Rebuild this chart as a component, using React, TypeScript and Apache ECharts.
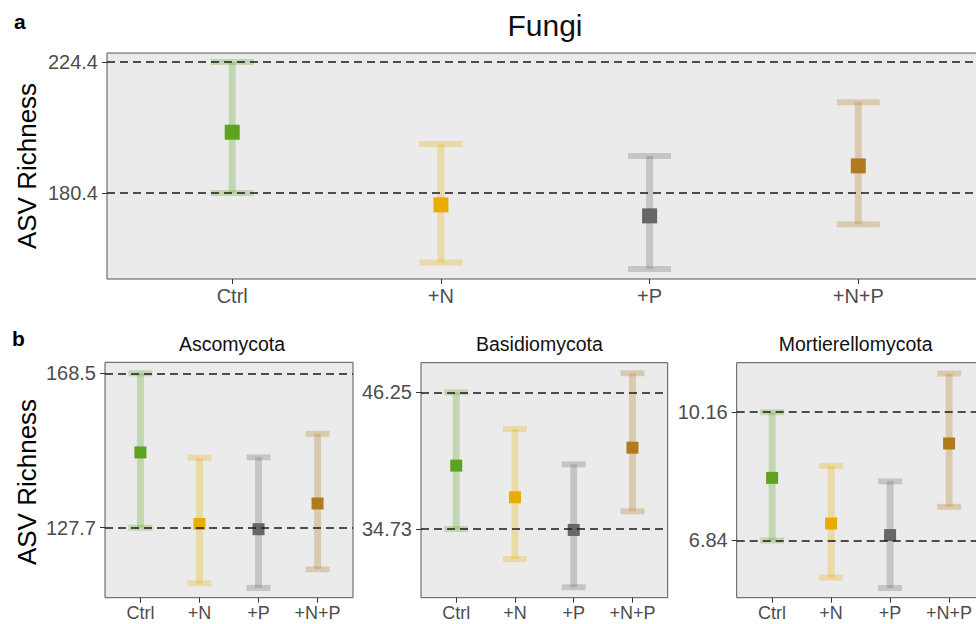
import React, { useEffect, useRef } from 'react';
import * as echarts from 'echarts';

const categories = ['Ctrl', '+N', '+P', '+N+P'];
const xPositions = [1, 2, 3, 4];

const fungiMean = [200.8, 176.4, 172.7, 189.5];
const fungiLow = [180.4, 157.0, 154.9, 169.9];
const fungiHigh = [224.4, 196.8, 192.8, 210.9];
const fungiTicks = [180.4, 224.4];

const ascoMean = [147.6, 128.7, 127.3, 134.1];
const ascoLow = [127.7, 113.0, 111.8, 116.7];
const ascoHigh = [168.5, 146.2, 146.3, 152.5];
const ascoTicks = [127.7, 168.5];

const basidioMean = [40.07, 37.4, 34.65, 41.58];
const basidioLow = [34.73, 32.2, 29.82, 36.22];
const basidioHigh = [46.25, 43.16, 40.18, 47.85];
const basidioTicks = [34.73, 46.25];

const mortMean = [8.46, 7.28, 6.98, 9.35];
const mortLow = [6.84, 5.88, 5.61, 7.71];
const mortHigh = [10.16, 8.77, 8.37, 11.16];
const mortTicks = [6.84, 10.16];

const colors = ['#5ea320', '#e8ad00', '#666666', '#b07b1a'];
const FONT = "'Liberation Sans', Arial, Helvetica, sans-serif";

function hexToRgba(hex: string, a: number) {
  const n = parseInt(hex.slice(1), 16);
  return `rgba(${(n >> 16) & 255},${(n >> 8) & 255},${n & 255},${a})`;
}

const panels = [
  { title: 'Fungi', mean: fungiMean, low: fungiLow, high: fungiHigh, ticks: fungiTicks, min: 151.5, max: 227.4, dec: 1,
    grid: { left: 107, top: 53, width: 876.5, height: 226 }, big: true },
  { title: 'Ascomycota', mean: ascoMean, low: ascoLow, high: ascoHigh, ticks: ascoTicks, min: 109.2, max: 171.4, dec: 1,
    grid: { left: 105, top: 362.3, width: 248, height: 235.4 }, big: false },
  { title: 'Basidiomycota', mean: basidioMean, low: basidioLow, high: basidioHigh, ticks: basidioTicks, min: 28.94, max: 48.74, dec: 2,
    grid: { left: 421, top: 362.7, width: 246.7, height: 235 }, big: false },
  { title: 'Mortierellomycota', mean: mortMean, low: mortLow, high: mortHigh, ticks: mortTicks, min: 5.36, max: 11.44, dec: 2,
    grid: { left: 736.7, top: 362.7, width: 247.8, height: 235 }, big: false },
];

function buildOption() {
  const grids: any[] = [];
  const xAxes: any[] = [];
  const yAxes: any[] = [];
  const series: any[] = [];
  const graphics: any[] = [];

  panels.forEach((p, i) => {
    grids.push({
      ...p.grid,
      show: true,
      backgroundColor: '#ebebeb',
      borderColor: '#555555',
      borderWidth: 1,
      containLabel: false,
      outerBoundsMode: 'none',
    });
    xAxes.push({
      type: 'value',
      gridIndex: i,
      min: 0.4,
      max: 4.6,
      axisLine: { show: false },
      splitLine: { show: false },
      axisTick: { show: true, customValues: xPositions, length: 5, lineStyle: { color: '#333333', width: 1 } },
      axisLabel: {
        customValues: xPositions,
        margin: p.big ? 7 : 6,
        color: '#4d4d4d',
        fontSize: p.big ? 20 : 18,
        fontFamily: FONT,
        formatter: (v: number) => categories[Math.round(v) - 1] ?? '',
      },
    });
    yAxes.push({
      type: 'value',
      gridIndex: i,
      min: p.min,
      max: p.max,
      axisLine: { show: false },
      splitLine: { show: false },
      axisTick: { show: true, customValues: p.ticks, length: 5, lineStyle: { color: '#333333', width: 1 } },
      axisLabel: {
        customValues: p.ticks,
        margin: 9,
        color: '#4d4d4d',
        fontSize: 20,
        fontFamily: FONT,
        formatter: (v: number) => v.toFixed(p.dec),
      },
    });

    const lw = 7;
    const cw = p.big ? 43 : 24;
    const ch = 6;
    series.push({
      type: 'custom',
      xAxisIndex: i,
      yAxisIndex: i,
      z: 2,
      silent: true,
      encode: { x: 0, y: [1, 2] },
      data: xPositions.map((x, k) => [x, p.low[k], p.high[k]]),
      renderItem: (params: any, api: any) => {
        const x = api.value(0);
        const lo = api.coord([x, api.value(1)]);
        const hi = api.coord([x, api.value(2)]);
        const fill = hexToRgba(colors[params.dataIndex], 0.28);
        return {
          type: 'group',
          children: [
            { type: 'rect', shape: { x: lo[0] - lw / 2, y: hi[1], width: lw, height: lo[1] - hi[1] }, style: { fill } },
            { type: 'rect', shape: { x: hi[0] - cw / 2, y: hi[1] - ch / 2, width: cw, height: ch }, style: { fill } },
            { type: 'rect', shape: { x: lo[0] - cw / 2, y: lo[1] - ch / 2, width: cw, height: ch }, style: { fill } },
          ],
        };
      },
    });
    series.push({
      type: 'scatter',
      xAxisIndex: i,
      yAxisIndex: i,
      z: 3,
      data: [],
      silent: true,
      markLine: {
        silent: true,
        symbol: ['none', 'none'],
        label: { show: false },
        lineStyle: { color: '#1a1a1a', width: 1.6, type: [8, 5], opacity: 1 },
        emphasis: { disabled: true },
        data: p.ticks.map((t) => ({ yAxis: t })),
      },
    });
    series.push({
      type: 'scatter',
      xAxisIndex: i,
      yAxisIndex: i,
      z: 4,
      silent: true,
      symbol: 'rect',
      symbolSize: p.big ? 15 : 12,
      data: xPositions.map((x, k) => ({ value: [x, p.mean[k]], itemStyle: { color: colors[k], opacity: 1 } })),
    });

    const cx = p.grid.left + p.grid.width / 2;
    graphics.push({
      type: 'text',
      x: p.big ? 545 : (i === 1 ? 232 : cx - 5),
      y: p.big ? 25 : 344,
      style: {
        text: p.title,
        fill: '#111111',
        fontSize: p.big ? 30 : 19.5,
        fontFamily: FONT,
        textAlign: 'center',
        textVerticalAlign: 'middle',
      },
    });
  });

  graphics.push(
    { type: 'text', x: 14, y: 21, style: { text: 'a', fill: '#000', fontSize: 21, fontWeight: 'bold', fontFamily: FONT, textAlign: 'left', textVerticalAlign: 'middle' } },
    { type: 'text', x: 12, y: 338, style: { text: 'b', fill: '#000', fontSize: 21, fontWeight: 'bold', fontFamily: FONT, textAlign: 'left', textVerticalAlign: 'middle' } },
    { type: 'text', x: 27, y: 166, rotation: Math.PI / 2, style: { text: 'ASV Richness', fill: '#000', fontSize: 26, fontFamily: FONT, textAlign: 'center', textVerticalAlign: 'middle' } },
    { type: 'text', x: 27, y: 482, rotation: Math.PI / 2, style: { text: 'ASV Richness', fill: '#000', fontSize: 26, fontFamily: FONT, textAlign: 'center', textVerticalAlign: 'middle' } },
  );

  return {
    animation: false,
    backgroundColor: '#ffffff',
    grid: grids,
    xAxis: xAxes,
    yAxis: yAxes,
    series,
    graphic: graphics,
  };
}

export default function App() {
  const ref = useRef<HTMLDivElement>(null);
  useEffect(() => {
    const chart = echarts.init(ref.current!, null, { renderer: 'svg' });
    chart.setOption(buildOption() as any);
    return () => chart.dispose();
  }, []);
  return <div ref={ref} style={{ position: 'absolute', left: 0, top: 0, width: 976, height: 624 }} />;
}
